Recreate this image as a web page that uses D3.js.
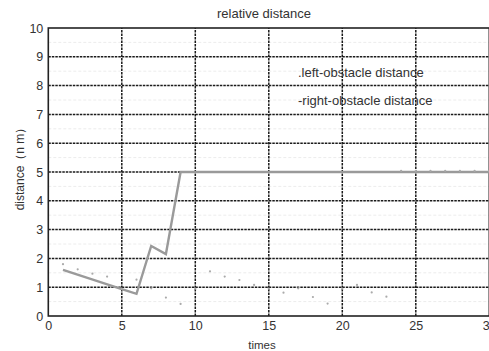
<!DOCTYPE html>
<html><head><meta charset="utf-8">
<script src="https://cdn.jsdelivr.net/npm/d3@7"></script>
<style>body{margin:0;background:#fff}svg{display:block}text{font-family:"Liberation Sans",Arial,sans-serif;fill:#333}</style>
</head><body><div id="c"></div>
<script>
const leftX = [1,2,3,4,5,6,7,8,9,10,11,12,13,14,15,16,17,18,19,20,21,22,23,24,25,26,27,28,29,30];
const leftY = [1.8,1.62,1.47,1.37,0.95,1.26,0.96,0.64,0.42,0.95,1.55,1.37,1.25,1.08,0.95,0.81,0.96,0.66,0.43,0.95,1.08,0.82,0.67,5.04,5.04,5.04,5.04,5.04,5.04,5.04];
const rightX = [1,5,6,7,8,9,10,15,20,25,30];
const rightY = [1.6,0.93,0.77,2.43,2.15,5,5,5,5,5,5];
const xTicks = [0,5,10,15,20,25,30];
const yTicks = [0,1,2,3,4,5,6,7,8,9,10];
const title = "relative distance";
const xLabel = "times";
const yLabel = "distance（n m）";
const legendLabels = [".left-obstacle distance", "-right-obstacle distance"];

const W = 489, H = 351;
const svg = d3.select("#c").append("svg").attr("width", W).attr("height", H);
const x = d3.scaleLinear().domain([0, 30]).range([48.3, 489.3]);
const y = d3.scaleLinear().domain([0, 10]).range([316, 28]);

// faint minor grid
const g = svg.append("g");
g.selectAll("line.mh").data(d3.range(0.5, 10, 1)).join("line")
  .attr("x1", x(0)).attr("x2", x(30)).attr("y1", d => y(d)).attr("y2", d => y(d))
  .attr("stroke", "#ececec").attr("stroke-width", 1).attr("stroke-dasharray", "3,2");

// major grid
g.selectAll("line.gh").data(yTicks.slice(1, -1)).join("line")
  .attr("x1", x(0)).attr("x2", x(30)).attr("y1", d => y(d)).attr("y2", d => y(d))
  .attr("stroke", "#1a1a1a").attr("stroke-width", 1.5).attr("stroke-dasharray", "2.5,1");
svg.append("g").selectAll("line").data(xTicks.slice(1, -1)).join("line")
  .attr("x1", d => x(d)).attr("x2", d => x(d)).attr("y1", y(0)).attr("y2", y(10))
  .attr("stroke", "#1a1a1a").attr("stroke-width", 1.5).attr("stroke-dasharray", "2.5,1");

// frame
svg.append("rect").attr("x", x(0)).attr("y", y(10)).attr("width", x(30) - x(0)).attr("height", y(0) - y(10))
  .attr("fill", "none").attr("stroke", "#222").attr("stroke-width", 1.6);

// axes
const xa = svg.append("g").attr("transform", `translate(0,${y(0)})`)
  .call(d3.axisBottom(x).tickValues(xTicks).tickSize(0).tickPadding(5));
xa.select(".domain").remove();
xa.selectAll("text").style("font-size", "12.5px").attr("fill", "#333");
const ya = svg.append("g").attr("transform", `translate(${x(0)},0)`)
  .call(d3.axisLeft(y).tickValues(yTicks).tickSize(0).tickPadding(5));
ya.select(".domain").remove();
ya.selectAll("text").style("font-size", "12.5px").attr("fill", "#333");

// series
svg.append("path").datum(rightX.map((d, i) => [d, rightY[i]]))
  .attr("d", d3.line().x(d => x(d[0])).y(d => y(d[1])))
  .attr("fill", "none").attr("stroke", "#9a9a9a").attr("stroke-width", 2.4);
svg.append("g").selectAll("circle").data(leftX.map((d, i) => [d, leftY[i]])).join("circle")
  .attr("cx", d => x(d[0])).attr("cy", d => y(d[1])).attr("r", 1.1).attr("fill", "#aaa");

// texts
svg.append("text").attr("x", 264).attr("y", 18).attr("text-anchor", "middle").style("font-size", "13px").text(title);
svg.append("text").attr("x", 262).attr("y", 349).attr("text-anchor", "middle").style("font-size", "11.5px").text(xLabel);
svg.append("text").attr("transform", "translate(24,166) rotate(-90)").attr("text-anchor", "middle").style("font-size", "12px").text(yLabel);
svg.append("g").selectAll("text").data(legendLabels).join("text")
  .attr("x", 298).attr("y", (d, i) => 77 + i * 28).style("font-size", "13px").text(d => d);
</script></body></html>
